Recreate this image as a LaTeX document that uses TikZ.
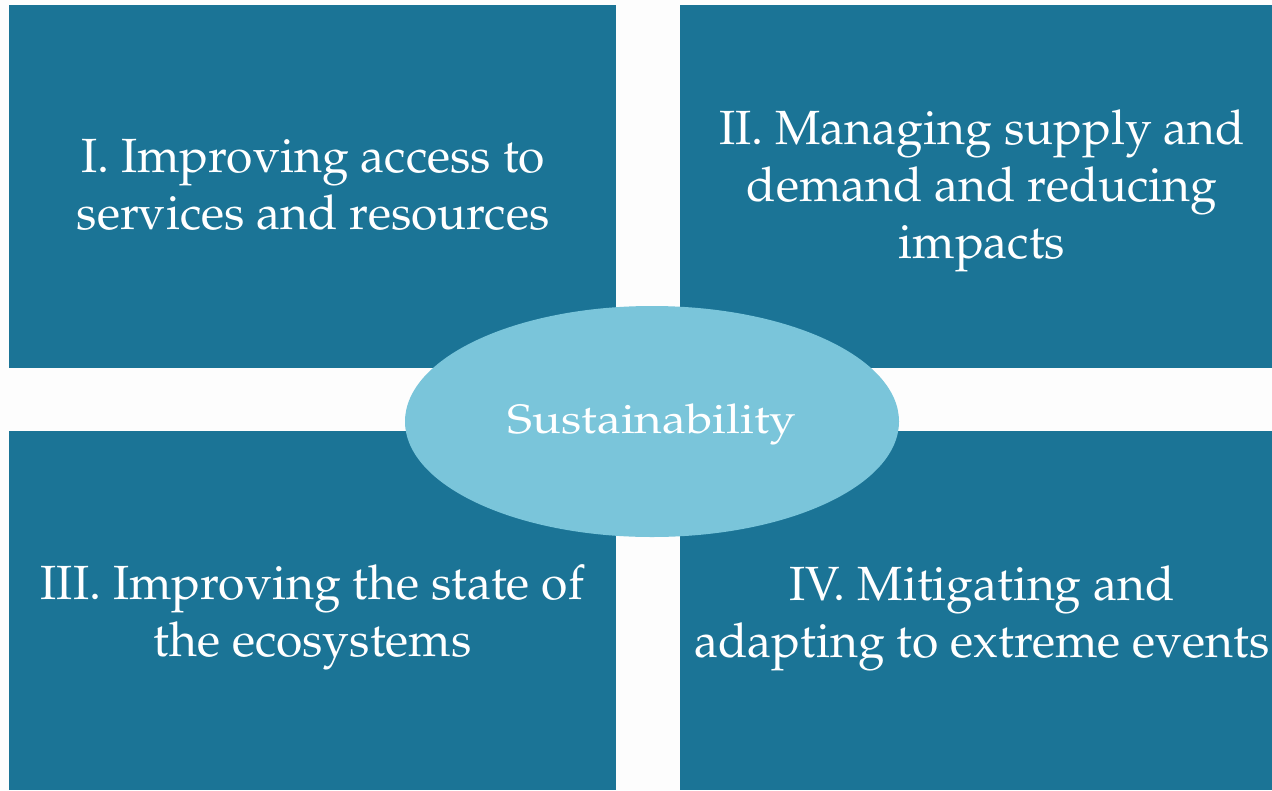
\documentclass[tikz,border=0pt]{standalone}
\usepackage[T1]{fontenc}
\usepackage{mathpazo}
\usepackage{xcolor}
\usepackage{tikz}
\usetikzlibrary{shapes}
\usetikzlibrary{shapes.geometric}
\definecolor{boxblue}{RGB}{27,116,150}
\definecolor{ovalblue}{RGB}{122,197,218}
\definecolor{paper}{RGB}{253,253,253}
\tikzset{
    quad/.style = {rectangle, fill=boxblue, inner sep=0pt, anchor=north west},
    quadtext/.style = {align=center, text=white, inner sep=0pt, font=\fontsize{48}{57}\selectfont},
    hub/.style = {ellipse, fill=ovalblue, inner sep=0pt, minimum width=494pt, minimum height=231pt},
}

\begin{document}
\begin{tikzpicture}[
	x=1pt,
	y=-1pt
]
\fill[paper] (0,0) rectangle (1272,790);
\useasboundingbox (0,0) rectangle (1272,790);
\node[quad, minimum width=607pt, minimum height=363pt] at (9,5) (q1) {};
\node[quad, minimum width=592pt, minimum height=363pt] at (680,5) (q2) {};
\node[quad, minimum width=607pt, minimum height=359pt] at (9,431) (q3) {};
\node[quad, minimum width=592pt, minimum height=359pt] at (680,431) (q4) {};
%
\node[quadtext] at (313,185) (t1) {I. Improving access to\\services and resources};
\node[quadtext] at (982,191) (t2) {II. Managing supply and\\demand and reducing\\impacts};
\node[quadtext] at (312.5,617.5) (t3) {III. Improving the state of\\the ecosystems};
\node[quadtext] at (982,618.5) (t4) {IV. Mitigating and\\adapting to extreme events};
%
\node[hub] at (652,421.5) (s) {};
\node[text=white, inner sep=0pt, font=\fontsize{41}{48}\selectfont, xscale=1.16, transform shape] at (652,424.5) (slabel) {Sustainability};
\end{tikzpicture}
\end{document}
